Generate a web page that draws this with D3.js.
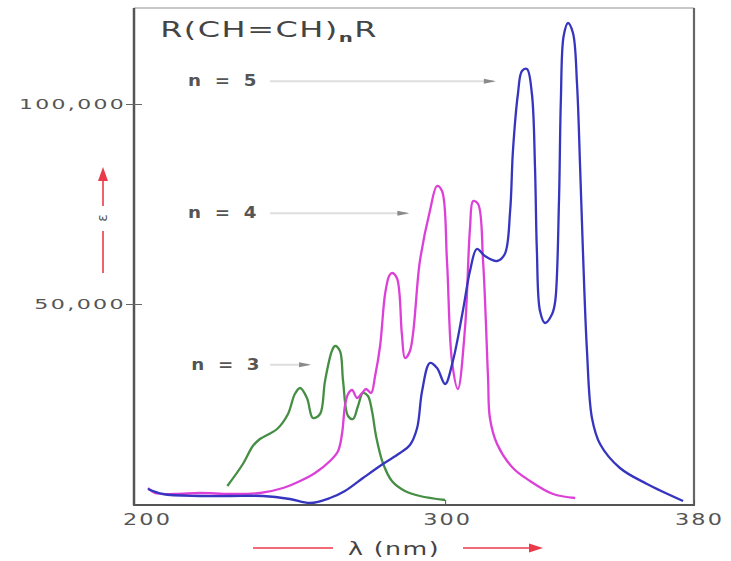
<!DOCTYPE html>
<html>
<head>
<meta charset="utf-8">
<script src="https://cdn.jsdelivr.net/npm/d3@7"></script>
<style>
  body { margin: 0; background: #fff; }
  svg { display: block; }
</style>
</head>
<body>
<div id="chart"></div>
<script>
// UV absorption of R(CH=CH)nR polyenes
var xTicks = [200, 300, 380];
var yTicks = [50000, 100000];

var n3Wavelength = [230, 235, 238.2, 240.5, 246, 249.5, 251.7, 253.4, 255.6, 257.5, 259.8, 261.4, 263.6, 264.6, 266.2, 267.2, 268.8, 270.4, 272, 273.6, 275.2, 276.5, 277.8, 280, 282.9, 287.1, 291.9, 300];
var n3Epsilon = [4500, 10000, 14500, 16250, 18750, 22500, 27500, 29000, 26500, 21500, 22500, 30750, 38250, 39500, 38250, 30750, 22000, 21250, 24500, 27750, 27000, 23250, 17000, 10250, 5750, 3250, 2000, 1000];

var n4Wavelength = [204.5, 206.7, 213.2, 221.2, 230.9, 240.5, 247.9, 253.4, 258.2, 263, 265.6, 266.9, 267.8, 268.8, 270.1, 271.7, 273.3, 274.6, 276.2, 277.5, 279.1, 280.7, 282, 282.9, 284.5, 286.1, 287.1, 288.7, 291.9, 295.1, 297.4, 299, 300.6, 302.2, 304.1, 306.4, 308, 309, 310.6, 312.2, 313.8, 314.4, 316.7, 321.8, 327.3, 334.7, 341.8];
var n4Epsilon = [4000, 2750, 2500, 2750, 2500, 2750, 4000, 5750, 7750, 10750, 13250, 17750, 24500, 27500, 28500, 26500, 27750, 28750, 27750, 32000, 39500, 52500, 57000, 57750, 56500, 42500, 36500, 38250, 60750, 73250, 79500, 78250, 60750, 35750, 28750, 44000, 69000, 75750, 75000, 60750, 31500, 21500, 15000, 9000, 5750, 2500, 1500];

var n5Wavelength = [204.5, 209.3, 221.2, 230.9, 241.5, 250.1, 256.6, 263, 267.8, 273.6, 280, 285.5, 288.7, 291, 292.6, 295.1, 297.4, 300, 302.5, 305.7, 308, 310.2, 312.8, 316.7, 319.2, 320.9, 321.8, 323.4, 324.7, 326.3, 327.9, 328.9, 329.5, 330.5, 332.1, 334.4, 335.4, 336.6, 337.2, 338.1, 339.5, 341.1, 342.4, 343.4, 344.3, 345.6, 347.2, 349.8, 356.2, 364.9, 376.5];
var n5Epsilon = [3750, 2500, 2000, 2000, 2000, 1250, 250, 1500, 3250, 6500, 10000, 12750, 14750, 19000, 28250, 35250, 34000, 30000, 35750, 48250, 58250, 63750, 62000, 60750, 62500, 73250, 88250, 102500, 108250, 108750, 102500, 84000, 63250, 48250, 45250, 47500, 50750, 75750, 100750, 117000, 120250, 117750, 105000, 84000, 63250, 38250, 21500, 15000, 9000, 5000, 750];

var seriesNames = ["n = 3", "n = 4", "n = 5"];
var seriesColors = ["#468e44", "#dc40d8", "#3535bf"];

var width = 731, height = 561;
var svg = d3.select("#chart").append("svg")
  .attr("width", width)
  .attr("height", height);

var x = d3.scaleLinear().domain([200, 380]).range([134, 694]);
var y = d3.scaleLinear().domain([0, 124000]).range([504, 8]);

// the original lettering is wide, so texts get stretched to the measured width
function stretch(sel, target) {
  sel.each(function () {
    var w = this.getComputedTextLength();
    var s = target / w;
    var x0 = +this.getAttribute("x") || 0;
    this.setAttribute("transform", "scale(" + s + ",1)");
    this.setAttribute("x", x0 / s);
  });
}

var series = [
  {name: seriesNames[0], color: seriesColors[0], pts: d3.zip(n3Wavelength, n3Epsilon)},
  {name: seriesNames[1], color: seriesColors[1], pts: d3.zip(n4Wavelength, n4Epsilon)},
  {name: seriesNames[2], color: seriesColors[2], pts: d3.zip(n5Wavelength, n5Epsilon)}
];

var line = d3.line()
  .x(d => x(d[0]))
  .y(d => y(d[1]))
  .curve(d3.curveCatmullRom.alpha(0.5));

// annotation arrows (under the curves)
var annos = [
  {text: seriesNames[2], wl: 217.4, eps: 105700, from: 243.7, to: 317.6},
  {text: seriesNames[1], wl: 217.4, eps: 72700, from: 243.7, to: 289.8},
  {text: seriesNames[0], wl: 218.4, eps: 34800, from: 243.7, to: 258.2}
];
var annoG = svg.append("g");
annos.forEach(function (a) {
  annoG.append("line")
    .attr("x1", x(a.from)).attr("x2", x(a.to) - 6)
    .attr("y1", y(a.eps)).attr("y2", y(a.eps))
    .attr("stroke", "#dedede")
    .attr("stroke-width", 2);
  annoG.append("path")
    .attr("d", "M" + (x(a.to) - 16) + "," + (y(a.eps) - 2.5) + "L" + (x(a.to) - 4) + "," + y(a.eps) + "L" + (x(a.to) - 16) + "," + (y(a.eps) + 2.5) + "Z")
    .attr("fill", "#8a8a8a");
  annoG.append("text")
    .attr("x", x(a.wl))
    .attr("y", y(a.eps))
    .attr("dy", "0.35em")
    .attr("font-family", "DejaVu Sans")
    .attr("font-size", "15px")
    .attr("font-weight", "bold")
    .attr("letter-spacing", "3px")
    .attr("fill", "#555")
    .text(a.text)
    .call(stretch, 72);
});

// spectra
svg.append("g").selectAll("path")
  .data(series)
  .enter()
  .append("path")
    .attr("d", d => line(d.pts))
    .attr("fill", "none")
    .attr("stroke", d => d.color)
    .attr("stroke-width", 2.3)
    .attr("stroke-linejoin", "round");

// frame
var fx0 = x(200), fx1 = x(380), fy0 = y(124000), fy1 = y(0) + 1;
svg.append("line").attr("x1", fx0).attr("x2", fx1).attr("y1", fy0).attr("y2", fy0)
  .attr("stroke", "#b5b5b5").attr("stroke-width", 1.5);
svg.append("line").attr("x1", fx0).attr("x2", fx0).attr("y1", fy0).attr("y2", fy1)
  .attr("stroke", "#555").attr("stroke-width", 2.5);
svg.append("line").attr("x1", fx1).attr("x2", fx1).attr("y1", fy0).attr("y2", fy1)
  .attr("stroke", "#666").attr("stroke-width", 2.2);
svg.append("line").attr("x1", fx0 - 1).attr("x2", fx1 + 1).attr("y1", fy1).attr("y2", fy1)
  .attr("stroke", "#555").attr("stroke-width", 2.2);

// y axis
var yAxis = svg.append("g")
  .attr("transform", "translate(" + (fx0 + 8) + ",0)")
  .call(d3.axisLeft(y).tickValues(yTicks).tickFormat(d3.format(",")).tickSize(16).tickSizeOuter(0));
yAxis.select(".domain").remove();
yAxis.selectAll(".tick line").attr("stroke", "#666").attr("stroke-width", 1);
yAxis.selectAll(".tick text")
  .attr("x", -16)
  .attr("font-family", "DejaVu Sans")
  .attr("font-size", "14px")
  .attr("letter-spacing", "1.5px")
  .attr("fill", "#555")
  .each(function (d) {
    d3.select(this).call(stretch, d3.format(",")(d).length * 15.3);
  });

// x axis
var xAxis = svg.append("g")
  .attr("transform", "translate(0," + fy1 + ")")
  .call(d3.axisBottom(x).tickValues(xTicks).tickFormat(d3.format("d")).tickSize(-5).tickPadding(9).tickSizeOuter(0));
xAxis.select(".domain").remove();
xAxis.selectAll(".tick line").attr("stroke", "#555");
xAxis.selectAll(".tick text")
  .attr("font-family", "DejaVu Sans")
  .attr("font-size", "16px")
  .attr("letter-spacing", "1.5px")
  .attr("x", d => d == 200 ? 13 : (d == 300 ? 2 : 5))
  .attr("fill", "#555")
  .call(stretch, 49);

// title
var title = svg.append("text")
  .attr("x", x(208.4))
  .attr("y", y(116700))
  .attr("font-family", "DejaVu Sans")
  .attr("font-size", "21px")
  .attr("letter-spacing", "1px")
  .attr("fill", "#444");
title.append("tspan").text("R(CH=CH)");
title.append("tspan").attr("font-size", "13px").attr("dy", 5).attr("font-weight", "bold").text("n");
title.append("tspan").attr("dy", -5).text("R");
title.call(stretch, 218);

// epsilon arrow
var red = "#ea3a4a";
var ax = 103;
svg.append("line").attr("x1", ax).attr("x2", ax).attr("y1", 273).attr("y2", 231)
  .attr("stroke", red).attr("stroke-width", 1.6);
svg.append("line").attr("x1", ax).attr("x2", ax).attr("y1", 206).attr("y2", 178)
  .attr("stroke", red).attr("stroke-width", 1.6);
svg.append("path")
  .attr("d", "M" + (ax - 5) + ",181L" + ax + ",167L" + (ax + 5) + ",181Z")
  .attr("fill", red);
svg.append("text")
  .attr("transform", "translate(" + (ax + 4) + ",218) rotate(-90)")
  .attr("text-anchor", "middle")
  .attr("font-family", "DejaVu Sans")
  .attr("font-size", "14px")
  .attr("fill", "#555")
  .text("ε");

// x label with arrows
svg.append("line").attr("x1", 253).attr("x2", 333).attr("y1", 548).attr("y2", 548)
  .attr("stroke", red).attr("stroke-width", 1.6);
svg.append("line").attr("x1", 463).attr("x2", 532).attr("y1", 548).attr("y2", 548)
  .attr("stroke", red).attr("stroke-width", 1.6);
svg.append("path")
  .attr("d", "M529,543.5L543,548L529,552.5Z")
  .attr("fill", red);
svg.append("text")
  .attr("x", 348)
  .attr("y", 555)
  .attr("font-family", "DejaVu Sans")
  .attr("font-size", "18px")
  .attr("letter-spacing", "1px")
  .attr("fill", "#444")
  .text("λ (nm)")
  .call(stretch, 92);
</script>
</body>
</html>
